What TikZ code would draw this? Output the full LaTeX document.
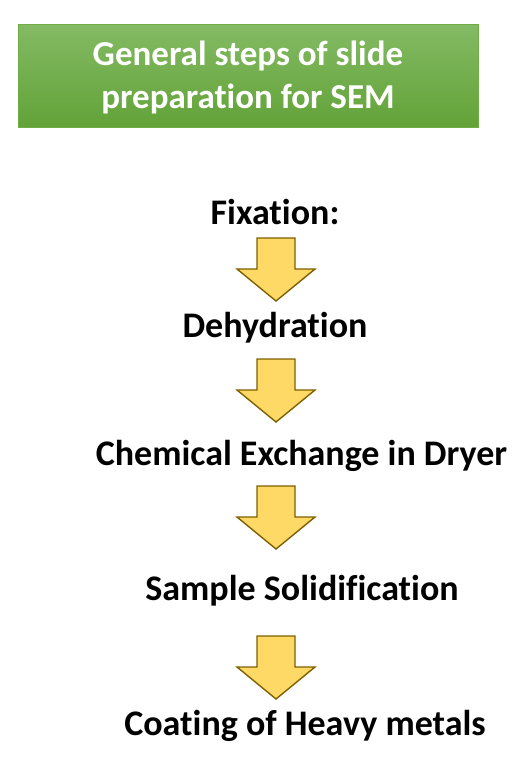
\documentclass[tikz,border=0pt]{standalone}
\usepackage{fontspec}
\setmainfont{Carlito}[Ligatures={NoCommon}]
\usetikzlibrary{positioning}

\definecolor{titletop}{RGB}{132,186,100}
\definecolor{titlebot}{RGB}{98,163,56}
\definecolor{titleedge}{RGB}{112,173,71}
\definecolor{arrowfill}{RGB}{255,217,102}
\definecolor{arrowedge}{RGB}{127,96,0}

\tikzset{
  steptext/.style={inner sep=0pt, anchor=base, font=\fontsize{36}{40}\selectfont\bfseries},
  titletext/.style={inner sep=0pt, anchor=base, text=white, font=\fontsize{35}{40}\selectfont\bfseries},
  blockdown/.pic={
    \draw[fill=arrowfill, draw=arrowedge, line width=1.4pt, line join=miter]
      (-19,0) -- (19,0) -- (19,31) -- (39,31) -- (0,63) -- (-39,31) -- (-19,31) -- cycle;
  }
}

\begin{document}
\begin{tikzpicture}[x=1pt, y=-1pt]
	\useasboundingbox (0,0) rectangle (529,780);
	
	% title box
	\shade[top color=titletop, bottom color=titlebot] (18,24) rectangle (478,127);
	\draw[titleedge, line width=0.8pt] (18,24) rectangle (478,127);
	\node[titletext] (title1) at (248,65) {General steps of slide};
	\node[titletext] (title2) at (248,108) {preparation for SEM};
	
	% steps
	\node[steptext] (fix) at (275,224) {Fixation:};
	\node[steptext] (dehyd) at (275,337) {Dehydration};
	\node[steptext] (exch) at (301.5,465) {Chemical Exchange in Dryer};
	\node[steptext] (solid) at (302,600) {Sample Solidification};
	\node[steptext] (coat) at (305,735) {Coating of Heavy metals};
	
	% arrows between the steps
	\coordinate (a1) at (276,238);
	\coordinate (a2) at (276,359);
	\coordinate (a3) at (276,486);
	\coordinate (a4) at (276,636);
	\foreach \a in {a1,a2,a3,a4}
	\pic at (\a) {blockdown};
\end{tikzpicture}
\end{document}
